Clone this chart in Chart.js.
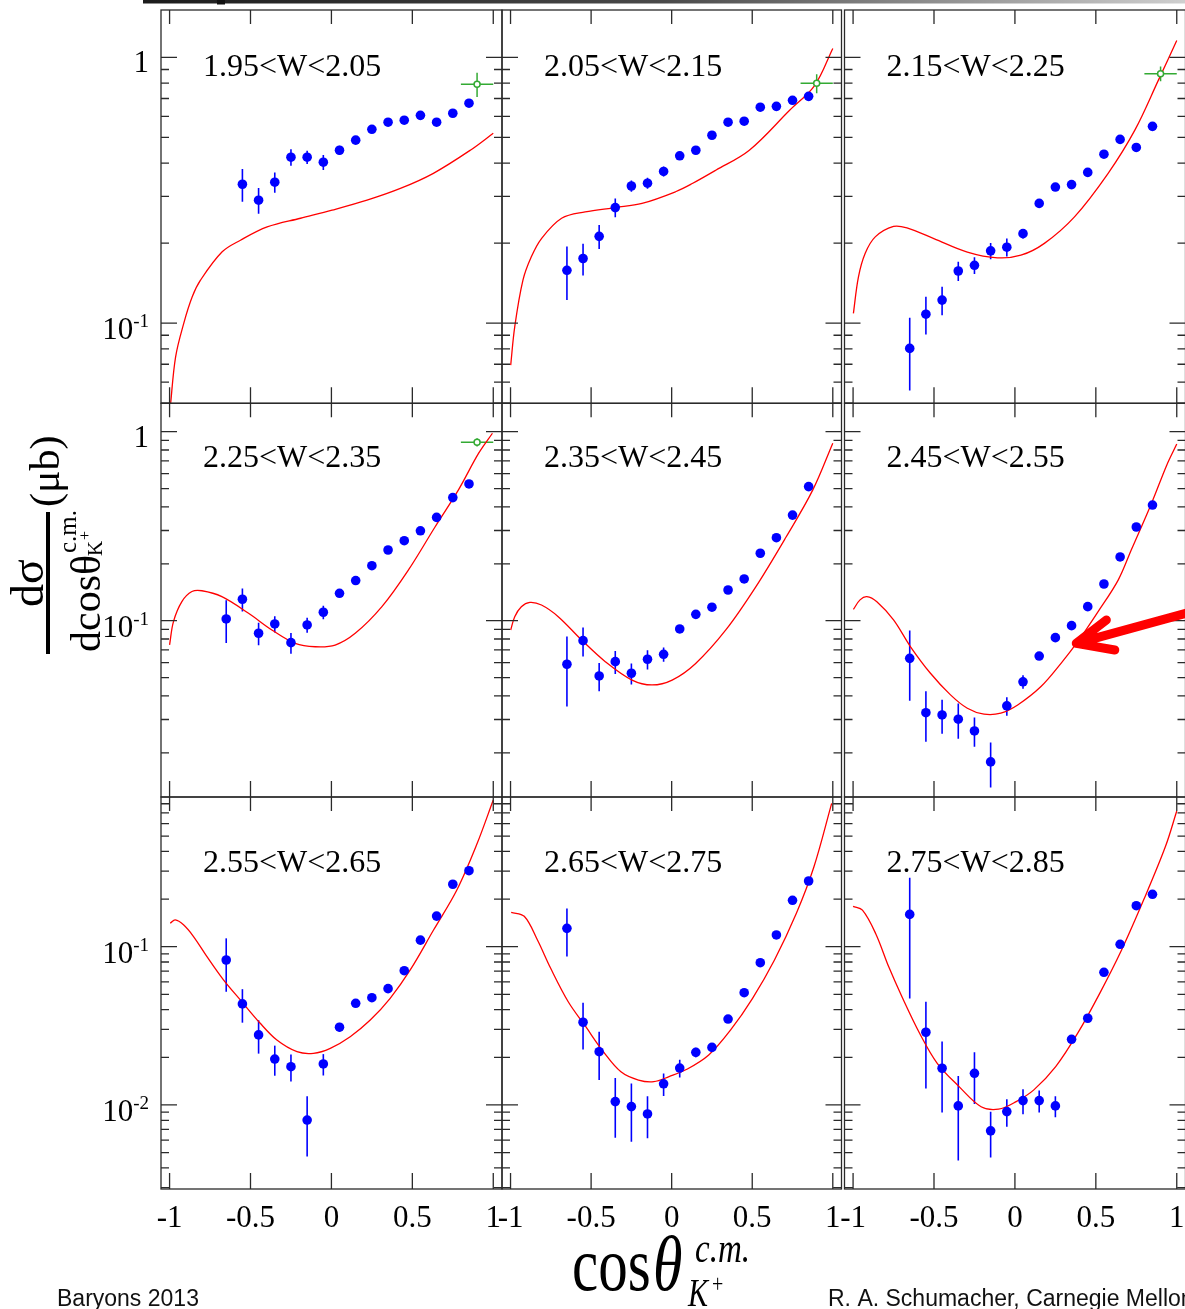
<!DOCTYPE html>
<html>
<head>
<meta charset="utf-8">
<script src="https://cdn.jsdelivr.net/npm/chart.js@4"></script>
<style>
  html, body { margin: 0; padding: 0; background: #fff; overflow: hidden; }
  #wrap { position: relative; width: 1185px; height: 1309px; overflow: hidden; }
  #wrap canvas { position: absolute; left: 0; top: 0; }
</style>
</head>
<body>
<div id="wrap"></div>
<script>
// W bins, one panel each
const panelTitles = ['1.95<W<2.05', '2.05<W<2.15', '2.15<W<2.25',
                     '2.25<W<2.35', '2.35<W<2.45', '2.45<W<2.55',
                     '2.55<W<2.65', '2.65<W<2.75', '2.75<W<2.85'];

// cos theta bin centres (blue data)
const cosBins = [-0.65, -0.55, -0.45, -0.35, -0.25, -0.15, -0.05, 0.05, 0.15, 0.25, 0.35, 0.45, 0.55, 0.65, 0.75, 0.85];

// dsigma/dcos (ub) and errors, per W bin
const xs195 = [null, 0.333, 0.290, 0.339, 0.421, 0.421, 0.403, 0.447, 0.488, 0.536, 0.570, 0.580, 0.605, 0.570, 0.616, 0.672];
const err195 = [null, 0.047, 0.032, 0.030, 0.030, 0.024, 0.026, 0.018, 0.016, 0.016, 0.016, 0.016, 0.016, 0.016, 0.018, 0.022];
const xs205 = [0.158, 0.175, 0.212, 0.272, 0.328, 0.336, 0.372, 0.426, 0.447, 0.509, 0.570, 0.575, 0.649, 0.654, 0.689, 0.713];
const err205 = [0.036, 0.024, 0.022, 0.022, 0.016, 0.016, 0.016, 0.015, 0.015, 0.015, 0.016, 0.016, 0.016, 0.016, 0.018, 0.020];
const xs215 = [0.0803, 0.108, 0.122, 0.157, 0.165, 0.187, 0.193, 0.217, 0.282, 0.325, 0.332, 0.369, 0.432, 0.491, 0.458, 0.550];
const err215 = [0.0245, 0.0175, 0.015, 0.013, 0.012, 0.013, 0.015, 0.009, 0.008, 0.008, 0.008, 0.009, 0.010, 0.010, 0.010, 0.012];
const xs225 = [0.1021, 0.1298, 0.0858, 0.0961, 0.0765, 0.0949, 0.1108, 0.1396, 0.163, 0.1954, 0.2366, 0.265, 0.299, 0.352, 0.448, 0.529];
const err225 = [0.026, 0.018, 0.0117, 0.0095, 0.0096, 0.0087, 0.009, 0.006, 0.006, 0.006, 0.007, 0.007, 0.008, 0.009, 0.010, 0.012];
const xs235 = [0.0588, 0.0784, 0.0510, 0.0607, 0.0527, 0.0625, 0.0664, 0.0904, 0.108, 0.1178, 0.1453, 0.1662, 0.2274, 0.2748, 0.362, 0.512];
const err235 = [0.0236, 0.0137, 0.0087, 0.0084, 0.0067, 0.0073, 0.0058, 0.004, 0.004, 0.004, 0.005, 0.005, 0.006, 0.007, 0.008, 0.010];
const xs245 = [0.0632, 0.0326, 0.0317, 0.0301, 0.0261, 0.0179, 0.0354, 0.0475, 0.0650, 0.0813, 0.0941, 0.1186, 0.1563, 0.2173, 0.313, 0.409];
const err245 = [0.0255, 0.0097, 0.0065, 0.0064, 0.0046, 0.0048, 0.004, 0.0039, 0.003, 0.003, 0.003, 0.004, 0.005, 0.006, 0.007, 0.009];
const xs255 = [0.0824, 0.0435, 0.0277, 0.0195, 0.01745, 0.00803, 0.01815, 0.0310, 0.0439, 0.0476, 0.0543, 0.0705, 0.110, 0.156, 0.248, 0.302];
const err255 = [0.0305, 0.0104, 0.0066, 0.0042, 0.0034, 0.0033, 0.0028, 0.002, 0.0015, 0.0015, 0.0018, 0.002, 0.003, 0.004, 0.006, 0.007];
const xs265 = [0.1306, 0.0333, 0.0217, 0.0105, 0.00976, 0.00877, 0.0136, 0.0171, 0.0215, 0.0231, 0.0349, 0.0512, 0.0792, 0.1186, 0.1963, 0.260];
const err265 = [0.044, 0.0109, 0.0073, 0.0043, 0.0039, 0.0026, 0.0022, 0.0022, 0.0015, 0.0015, 0.002, 0.002, 0.003, 0.004, 0.005, 0.007];
const xs275 = [0.160, 0.0288, 0.01706, 0.00986, 0.01585, 0.00686, 0.00908, 0.01065, 0.01065, 0.00986, 0.0260, 0.0353, 0.0689, 0.1035, 0.1815, 0.2143];
const err275 = [0.113, 0.0161, 0.0081, 0.0054, 0.0057, 0.0022, 0.0018, 0.0019, 0.0017, 0.0015, 0.0015, 0.002, 0.003, 0.004, 0.006, 0.007];

// green open point (wide forward bin), first four W bins only
const greenCos = 0.9;
const greenHalfWidth = 0.1;
const greenXs = [0.792, 0.798, 0.868, 0.879, null, null, null, null, null];
const greenErr = [0.083, 0.065, 0.056, 0.045, null, null, null, null, null];

// model curves [cos, dsigma/dcos]
const curve195 = [[-0.996, 0.048], [-0.963, 0.0745], [-0.912, 0.100], [-0.860, 0.1256], [-0.809, 0.145], [-0.675, 0.1854], [-0.562, 0.205], [-0.397, 0.230], [-0.191, 0.248], [0.004, 0.266], [0.220, 0.290], [0.426, 0.321], [0.630, 0.366], [0.858, 0.447], [1.0, 0.518]];
const curve205 = [[-0.999, 0.0695], [-0.974, 0.0968], [-0.923, 0.145], [-0.871, 0.1775], [-0.808, 0.208], [-0.683, 0.248], [-0.537, 0.262], [-0.350, 0.272], [-0.184, 0.282], [0.024, 0.312], [0.128, 0.335], [0.274, 0.376], [0.482, 0.447], [0.732, 0.632], [0.888, 0.785], [1.0, 1.08]];
const curve215 = [[-0.998, 0.1087], [-0.967, 0.149], [-0.925, 0.183], [-0.863, 0.211], [-0.750, 0.231], [-0.667, 0.228], [-0.501, 0.208], [-0.294, 0.185], [-0.108, 0.176], [0.037, 0.180], [0.182, 0.1995], [0.368, 0.251], [0.576, 0.366], [0.741, 0.532], [0.886, 0.819], [1.0, 1.158]];
const curve225 = [[-1.0, 0.0744], [-0.976, 0.0989], [-0.924, 0.1262], [-0.862, 0.1426], [-0.800, 0.144], [-0.677, 0.134], [-0.512, 0.1094], [-0.368, 0.0893], [-0.224, 0.0759], [-0.100, 0.0728], [0.023, 0.0743], [0.147, 0.0857], [0.312, 0.1186], [0.476, 0.1855], [0.641, 0.314], [0.785, 0.492], [0.909, 0.767], [0.995, 0.981]];
const curve235 = [[-0.999, 0.0893], [-0.974, 0.105], [-0.933, 0.1186], [-0.880, 0.125], [-0.808, 0.121], [-0.704, 0.105], [-0.558, 0.0789], [-0.412, 0.0607], [-0.246, 0.0485], [-0.122, 0.0457], [0.003, 0.0485], [0.149, 0.0594], [0.336, 0.0893], [0.523, 0.1514], [0.711, 0.278], [0.876, 0.492], [1.0, 0.869]];
const curve245 = [[-0.998, 0.1148], [-0.957, 0.1288], [-0.915, 0.134], [-0.853, 0.126], [-0.750, 0.1009], [-0.646, 0.0730], [-0.522, 0.0527], [-0.398, 0.0405], [-0.294, 0.0344], [-0.191, 0.0320], [-0.087, 0.0324], [0.017, 0.0358], [0.161, 0.0448], [0.286, 0.0596], [0.389, 0.0776], [0.514, 0.1117], [0.638, 0.164], [0.720, 0.238], [0.845, 0.42], [0.938, 0.665], [1.0, 0.86]];
const curve255 = [[-0.996, 0.1406], [-0.965, 0.1476], [-0.914, 0.1374], [-0.852, 0.1159], [-0.769, 0.0865], [-0.667, 0.0617], [-0.563, 0.0461], [-0.440, 0.0328], [-0.337, 0.0257], [-0.213, 0.0217], [-0.111, 0.0212], [-0.007, 0.0228], [0.116, 0.0270], [0.240, 0.0344], [0.363, 0.0472], [0.487, 0.0713], [0.631, 0.1274], [0.775, 0.228], [0.899, 0.445], [1.0, 0.845]];
const curve265 = [[-0.996, 0.1648], [-0.915, 0.1556], [-0.833, 0.1102], [-0.751, 0.0730], [-0.642, 0.0449], [-0.533, 0.0312], [-0.424, 0.0217], [-0.315, 0.0162], [-0.206, 0.01436], [-0.111, 0.01402], [-0.016, 0.0151], [0.094, 0.0168], [0.230, 0.0207], [0.366, 0.0298], [0.502, 0.0472], [0.638, 0.0824], [0.774, 0.1626], [0.883, 0.320], [0.993, 0.805]];
const curve275 = [[-1.0, 0.180], [-0.942, 0.170], [-0.860, 0.1208], [-0.779, 0.0743], [-0.698, 0.0483], [-0.589, 0.0284], [-0.480, 0.01834], [-0.345, 0.01306], [-0.209, 0.00975], [-0.101, 0.0094], [0.008, 0.0105], [0.117, 0.01245], [0.252, 0.01746], [0.388, 0.0284], [0.524, 0.0507], [0.659, 0.0953], [0.795, 0.197], [0.930, 0.429], [1.0, 0.72]];

const xTickVals = [-1, -0.5, 0, 0.5, 1];
const xTickLabels = ['-1', '-0.5', '0', '0.5', '1'];

// ---- layout ----
const CANVAS_W = 1200, CANVAS_H = 1309;
const X_MIN = -1.053, X_MAX = 1.054;
const colLeft = [161, 502, 844.5], colRight = [502, 841.5, 1185.5];
const rowTop = [10, 403.3, 797], rowBottom = [403.3, 797, 1189];
const rowYMin = [0.0499, 0.01167, 0.002944], rowYMax = [1.507, 1.413, 0.8826];
const titleBase = [66, 63.5, 74.7];
const SERIF = '"Liberation Serif", "Times New Roman", serif';
const SANS = '"Liberation Sans", Arial, sans-serif';

const panels = [
  { xs: xs195, err: err195, curve: curve195 },
  { xs: xs205, err: err205, curve: curve205 },
  { xs: xs215, err: err215, curve: curve215 },
  { xs: xs225, err: err225, curve: curve225 },
  { xs: xs235, err: err235, curve: curve235 },
  { xs: xs245, err: err245, curve: curve245 },
  { xs: xs255, err: err255, curve: curve255 },
  { xs: xs265, err: err265, curve: curve265 },
  { xs: xs275, err: err275, curve: curve275 },
];

// red arrow in the 2.45<W<2.55 panel, in data coordinates
const arrowTip = [0.379, 0.0759];
const arrowTail = [1.1, 0.112];
const arrowArms = [[0.565, 0.1009], [0.617, 0.070]];

function drawPageText(ctx) {
  ctx.save();
  const g = ctx.createLinearGradient(143, 0, 1185, 0);
  g.addColorStop(0, '#1c1c1c');
  g.addColorStop(0.5, '#4a4a4a');
  g.addColorStop(1, '#cfcfcf');
  ctx.fillStyle = g;
  ctx.fillRect(143, 0, 1042, 3.5);
  ctx.fillStyle = '#111';
  ctx.fillRect(217, 0, 8, 4.5);

  ctx.fillStyle = '#000';
  ctx.textBaseline = 'alphabetic';
  // y title, rotated
  ctx.save();
  ctx.rotate(-Math.PI / 2);
  ctx.textAlign = 'center';
  ctx.font = '46px ' + SERIF;
  ctx.fillText('dσ', -583, 43);
  ctx.fillRect(-654, 46, 142, 4);
  ctx.textAlign = 'left';
  ctx.font = '42px ' + SERIF;
  ctx.fillText('dcosθ', -652, 100);
  ctx.font = '25px ' + SERIF;
  ctx.fillText('c.m.', -553, 76);
  ctx.font = '21px ' + SERIF;
  ctx.fillText('K', -556, 102);
  ctx.font = '16px ' + SERIF;
  ctx.fillText('+', -540, 90);
  ctx.font = '42px ' + SERIF;
  ctx.fillText('(μb)', -507, 59);
  ctx.restore();

  // x title
  ctx.textAlign = 'left';
  ctx.save(); ctx.translate(0, 1290); ctx.scale(1, 1.3);
  ctx.font = '59px ' + SERIF; ctx.fillText('cos', 572, 0);
  ctx.font = 'italic 60px ' + SERIF; ctx.fillText('θ', 653, 0);
  ctx.restore();
  ctx.save(); ctx.translate(0, 1262); ctx.scale(1, 1.3);
  ctx.font = 'italic 33px ' + SERIF; ctx.fillText('c.m.', 695, 0);
  ctx.restore();
  ctx.save(); ctx.translate(0, 1306); ctx.scale(1, 1.3);
  ctx.font = 'italic 30px ' + SERIF; ctx.fillText('K', 688, 0);
  ctx.restore();
  ctx.save(); ctx.translate(0, 1292); ctx.scale(1, 1.3);
  ctx.font = '20px ' + SERIF; ctx.fillText('+', 712, 0);
  ctx.restore();

  // footer
  ctx.font = '23px ' + SANS;
  ctx.fillStyle = '#111';
  ctx.fillText('Baryons 2013', 57, 1306);
  ctx.fillText('R. A. Schumacher, Carnegie Mellon', 828, 1306);
  ctx.restore();
}

const decor = {
  id: 'decor',
  beforeDatasetsDraw(chart, args, opts) {
    const i = opts.idx;
    const p = panels[i];
    const { ctx, chartArea: a, scales: { x, y } } = chart;
    ctx.save();
    ctx.beginPath();
    ctx.rect(a.left, a.top, a.right - a.left, a.bottom - a.top);
    ctx.clip();
    ctx.strokeStyle = '#0000ff';
    ctx.lineWidth = 1.6;
    p.xs.forEach((v, k) => {
      if (v == null) return;
      const px = x.getPixelForValue(cosBins[k]);
      const lo = Math.max(v - p.err[k], y.min * 0.5);
      ctx.beginPath();
      ctx.moveTo(px, y.getPixelForValue(lo));
      ctx.lineTo(px, y.getPixelForValue(v + p.err[k]));
      ctx.stroke();
    });
    if (greenXs[i] != null) {
      const gv = greenXs[i], ge = greenErr[i];
      const px = x.getPixelForValue(greenCos), py = y.getPixelForValue(gv);
      ctx.strokeStyle = '#33aa33';
      ctx.lineWidth = 1.5;
      ctx.beginPath();
      ctx.moveTo(x.getPixelForValue(greenCos - greenHalfWidth), py);
      ctx.lineTo(x.getPixelForValue(greenCos + greenHalfWidth), py);
      ctx.moveTo(px, y.getPixelForValue(gv - ge));
      ctx.lineTo(px, y.getPixelForValue(gv + ge));
      ctx.stroke();
    }
    ctx.restore();
  },
  afterDraw(chart, args, opts) {
    const i = opts.idx;
    const row = Math.floor(i / 3), col = i % 3;
    const { ctx, chartArea: a, scales: { x, y } } = chart;
    ctx.save();
    // frame and ticks
    ctx.strokeStyle = '#2a2a2a';
    ctx.lineWidth = 1.3;
    ctx.strokeRect(a.left, a.top, a.right - a.left, a.bottom - a.top);
    ctx.lineWidth = 1.3;
    ctx.beginPath();
    xTickVals.forEach(t => {
      const px = x.getPixelForValue(t);
      ctx.moveTo(px, a.bottom); ctx.lineTo(px, a.bottom - 16);
      ctx.moveTo(px, a.top); ctx.lineTo(px, a.top + 14);
    });
    const e0 = Math.floor(Math.log10(y.min)), e1 = Math.ceil(Math.log10(y.max));
    const decades = [];
    for (let e = e0; e <= e1; e++) {
      for (let m = 1; m <= 9; m++) {
        const v = m * Math.pow(10, e);
        if (v < y.min || v > y.max) continue;
        const py = y.getPixelForValue(v);
        const len = m === 1 ? 16 : 8;
        ctx.moveTo(a.left, py); ctx.lineTo(a.left + len, py);
        ctx.moveTo(a.right, py); ctx.lineTo(a.right - len, py);
        if (m === 1) decades.push([e, py]);
      }
    }
    ctx.stroke();

    ctx.fillStyle = '#000';
    ctx.textBaseline = 'alphabetic';
    // x tick labels (bottom row)
    if (row === 2) {
      ctx.font = '31px ' + SERIF;
      ctx.textAlign = 'center';
      xTickVals.forEach((t, k) => ctx.fillText(xTickLabels[k], x.getPixelForValue(t), 1227));
    }
    // y tick labels (left column)
    if (col === 0) {
      const right = 149;
      decades.forEach(([e, py]) => {
        if (e === 0) {
          ctx.font = '31px ' + SERIF;
          ctx.textAlign = 'right';
          ctx.fillText('1', right, py + 15);
        } else {
          ctx.font = '19px ' + SERIF;
          const sup = String(e);
          const sw = ctx.measureText(sup).width;
          ctx.textAlign = 'left';
          ctx.fillText(sup, right - sw, py + 4);
          ctx.font = '31px ' + SERIF;
          ctx.textAlign = 'right';
          ctx.fillText('10', right - sw, py + 16);
        }
      });
    }
    // panel title
    ctx.font = '32px ' + SERIF;
    ctx.textAlign = 'left';
    ctx.fillText(panelTitles[i], a.left + 42, rowTop[row] + titleBase[row]);

    // red arrow
    if (i === 5) {
      const P = (q) => [x.getPixelForValue(q[0]), y.getPixelForValue(q[1])];
      const tip = P(arrowTip);
      ctx.strokeStyle = '#ff0000';
      ctx.lineWidth = 9;
      ctx.lineCap = 'round';
      ctx.lineJoin = 'round';
      ctx.beginPath();
      const tail = P(arrowTail);
      ctx.moveTo(tail[0], tail[1]); ctx.lineTo(tip[0], tip[1]);
      arrowArms.forEach(q => {
        const e = P(q);
        ctx.moveTo(tip[0], tip[1]); ctx.lineTo(e[0], e[1]);
      });
      ctx.stroke();
    }
    ctx.restore();
    if (i === 0) drawPageText(ctx);
  }
};

const wrap = document.getElementById('wrap');
panels.forEach((p, i) => {
  const row = Math.floor(i / 3), col = i % 3;
  const cv = document.createElement('canvas');
  cv.width = CANVAS_W;
  cv.height = CANVAS_H;
  wrap.appendChild(cv);
  const green = greenXs[i] != null ? [{ x: greenCos, y: greenXs[i] }] : [];
  new Chart(cv, {
    type: 'scatter',
    data: {
      datasets: [
        {
          label: 'data',
          data: cosBins.map((c, k) => ({ x: c, y: p.xs[k] })).filter(d => d.y != null),
          backgroundColor: '#0000ff',
          borderWidth: 0,
          pointRadius: 4.8,
          pointHoverRadius: 4.8,
        },
        {
          label: 'forward',
          data: green,
          backgroundColor: '#ffffff',
          borderColor: '#33aa33',
          borderWidth: 1.5,
          pointRadius: 3,
          pointHoverRadius: 3,
        },
        {
          type: 'line',
          label: 'model',
          data: p.curve.map(q => ({ x: q[0], y: q[1] })),
          borderColor: '#ff0000',
          borderWidth: 1.3,
          pointRadius: 0,
          fill: false,
          tension: 0.35,
        }
      ]
    },
    options: {
      responsive: false,
      animation: false,
      events: [],
      devicePixelRatio: 1,
      layout: {
        padding: {
          left: colLeft[col],
          right: CANVAS_W - colRight[col],
          top: rowTop[row],
          bottom: CANVAS_H - rowBottom[row]
        }
      },
      scales: {
        x: { type: 'linear', display: false, min: X_MIN, max: X_MAX },
        y: { type: 'logarithmic', display: false, min: rowYMin[row], max: rowYMax[row] }
      },
      plugins: {
        legend: { display: false },
        tooltip: { enabled: false },
        decor: { idx: i }
      }
    },
    plugins: [decor]
  });
});
</script>
</body>
</html>
